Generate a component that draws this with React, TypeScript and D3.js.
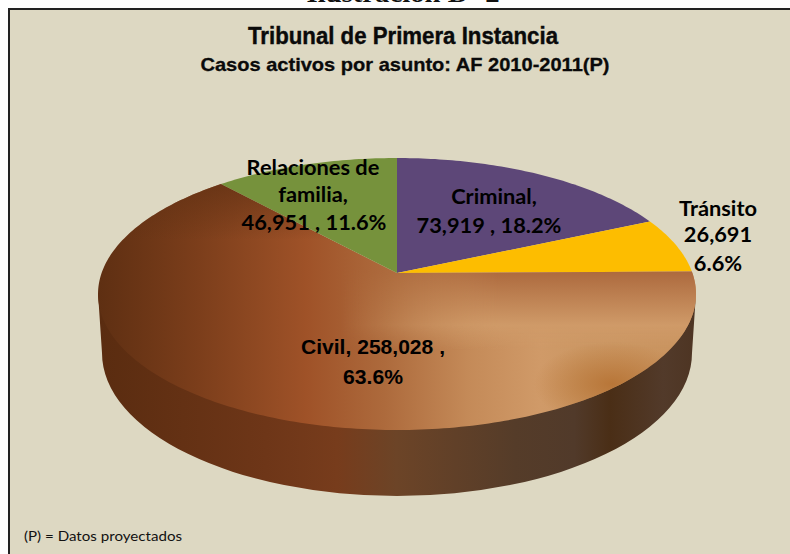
import React from "react";
import * as d3 from "d3";

const categories = ["Criminal", "Tránsito", "Civil", "Relaciones de familia"];
const values = [73919, 26691, 258028, 46951];
const colors = ["#5d4778", "#fdbd00", "url(#civilTop)", "#76923c"];
const title = "Tribunal de Primera Instancia";
const subtitle = "Casos activos por asunto: AF 2010-2011";
const subtitleSuffix = "(P)";
const clippedHeading = "Ilustración D- 2";
const footnote = "(P) = Datos proyectados";
const labelLines = [
  { lines: ["Relaciones de", "familia,", "46,951 , 11.6%"], xs: [313, 313, 314], ys: [175, 202, 230], narrow: [0, 0, 0] },
  { lines: ["Criminal,", "73,919 , 18.2%"], xs: [494, 489], ys: [204, 233], narrow: [0, 0] },
  { lines: ["Tránsito", "26,691", "6.6%"], xs: [718, 718, 718], ys: [216, 242, 271], narrow: [0, 0, 0] },
  { lines: ["Civil,  258,028 ,", "63.6%"], xs: [373, 373], ys: [354, 384], narrow: [144, 60] },
];

// Perspective mapping of the unit disc onto the pie's top surface
const cx = 397;
const persp = -0.1544;
const sx = d3.scaleLinear().domain([-1, 1]).range([-295.4, 295.4]);
const sy = d3.scaleLinear().domain([-1, 1]).range([273 - 90.6, 273 + 90.6]);
function project(theta: number): [number, number] {
  const u = Math.sin(theta);
  const v = -Math.cos(theta);
  const w = 1 + persp * v;
  return [cx + sx(u) / w, sy(v) / w];
}

const pieGen = d3.pie<number>().sort(null).startAngle(0).endAngle(2 * Math.PI);
const arcs = pieGen(values);
const line = d3.line();

function slicePath(a0: number, a1: number) {
  const n = Math.max(4, Math.ceil((a1 - a0) * 60));
  const pts: [number, number][] = [[cx, 273]];
  d3.range(n + 1).forEach((i) => pts.push(project(a0 + ((a1 - a0) * i) / n)));
  return line(pts) + "Z";
}

const sideGradient: [number, string][] = [
  [0, "#5a2c10"], [0.28, "#6e3618"], [0.4, "#773c1c"], [0.5, "#6c4427"], [0.7, "#553c29"],
  [0.8, "#513a2a"], [0.86, "#4a2e16"], [0.95, "#523a2a"], [1, "#4e3523"],
];
const topGradient: [number, string][] = [
  [0, "#5e2f12"], [0.17, "#7c3e1b"], [0.35, "#9f5228"], [0.48, "#ad6a3c"], [0.62, "#c48a58"],
  [0.74, "#d09a68"], [0.82, "#cb9763"], [1, "#c9935e"],
];

export default function App() {
  const civil = arcs[2];
  const civilD = slicePath(civil.startAngle, civil.endAngle);
  return (
    <svg width={790} height={554} style={{ position: "absolute", left: 0, top: 0, background: "#fff" }}>
      <defs>
        <linearGradient id="civilTop" gradientUnits="userSpaceOnUse" x1={97} x2={695} y1={0} y2={0}>
          {topGradient.map(([o, c]) => <stop key={o} offset={o} stopColor={c} />)}
        </linearGradient>
        <linearGradient id="side" gradientUnits="userSpaceOnUse" x1={100} x2={693} y1={0} y2={0}>
          {sideGradient.map(([o, c]) => <stop key={o} offset={o} stopColor={c} />)}
        </linearGradient>
        <linearGradient id="rightShade" gradientUnits="userSpaceOnUse" x1={0} x2={0} y1={272} y2={350}>
          <stop offset={0} stopColor="#ad6a3e" />
          <stop offset={0.68} stopColor="#cf9a68" />
          <stop offset={1} stopColor="#cf9a68" stopOpacity={0} />
        </linearGradient>
        <linearGradient id="rightFade" gradientUnits="userSpaceOnUse" x1={340} x2={500} y1={0} y2={0}>
          <stop offset={0} stopColor="#000" />
          <stop offset={1} stopColor="#fff" />
        </linearGradient>
        <mask id="rightMask" maskUnits="userSpaceOnUse" x={0} y={0} width={790} height={554}>
          <rect x={0} y={0} width={790} height={554} fill="url(#rightFade)" />
        </mask>
        <linearGradient id="leftTop" gradientUnits="userSpaceOnUse" x1={0} x2={0} y1={180} y2={240}>
          <stop offset={0} stopColor="#5e2f12" stopOpacity={0.7} />
          <stop offset={1} stopColor="#5e2f12" stopOpacity={0} />
        </linearGradient>
        <radialGradient id="notch" gradientUnits="userSpaceOnUse" cx={0} cy={0} r={1}
          gradientTransform="translate(612 384) scale(78 42)">
          <stop offset={0} stopColor="#b87638" />
          <stop offset={1} stopColor="#b87638" stopOpacity={0} />
        </radialGradient>
        <clipPath id="civilClip"><path d={civilD} /></clipPath>
      </defs>

      <text x={403} y={1.5} textAnchor="middle" fontFamily="'Liberation Serif'" fontWeight="bold" fontSize={25} textLength={193} lengthAdjust="spacingAndGlyphs" fill="#111">{clippedHeading}</text>

      <rect x={9} y={9} width={790} height={560} fill="#ddd8c2" stroke="#222" strokeWidth={2} />

      {/* Side wall */}
      <path
        d={`M${cx - 299},293 L${cx - 295},353 A295,143 0 0 0 ${cx + 295},353 L${cx + 299},293 Z`}
        fill="url(#side)"
      />

      {/* Top surface */}
      {arcs.map((a, i) => (
        <path key={categories[i]} d={slicePath(a.startAngle, a.endAngle)} fill={colors[i]} />
      ))}
      <g clipPath="url(#civilClip)">
        <rect x={90} y={170} width={320} height={70} fill="url(#leftTop)" />
        <rect x={340} y={270} width={360} height={80} fill="url(#rightShade)" mask="url(#rightMask)" />
        <rect x={520} y={340} width={180} height={90} fill="url(#notch)" />
      </g>

      <text x={403} y={44} textAnchor="middle" fontFamily="'Liberation Sans'" fontWeight="bold" fontSize={23} textLength={310} lengthAdjust="spacingAndGlyphs" fill="#0a0a0a" stroke="#0a0a0a" strokeWidth={0.4}>{title}</text>
      <text x={405} y={71} textAnchor="middle" fontFamily="'Liberation Sans'" fontWeight="bold" fontSize={19} textLength={409} lengthAdjust="spacingAndGlyphs" fill="#0a0a0a" stroke="#0a0a0a" strokeWidth={0.3}>
        {subtitle}<tspan>{subtitleSuffix}</tspan>
      </text>

      {labelLines.map((l) =>
        l.lines.map((t, i) => (
          <text
            key={t}
            x={l.xs[i]}
            y={l.ys[i]}
            textAnchor="middle"
            fontFamily={l.narrow[i] ? "'Liberation Sans'" : "Lato"}
            fontWeight="bold"
            fontSize={l.narrow[i] ? 20 : 21.8}
            textLength={l.narrow[i] || undefined}
            lengthAdjust="spacingAndGlyphs"
            fill="#000"
          >
            {t}
          </text>
        ))
      )}

      <text x={24} y={541} fontFamily="Lato" fontSize={13} textLength={158} lengthAdjust="spacingAndGlyphs" fill="#111">{footnote}</text>
    </svg>
  );
}
